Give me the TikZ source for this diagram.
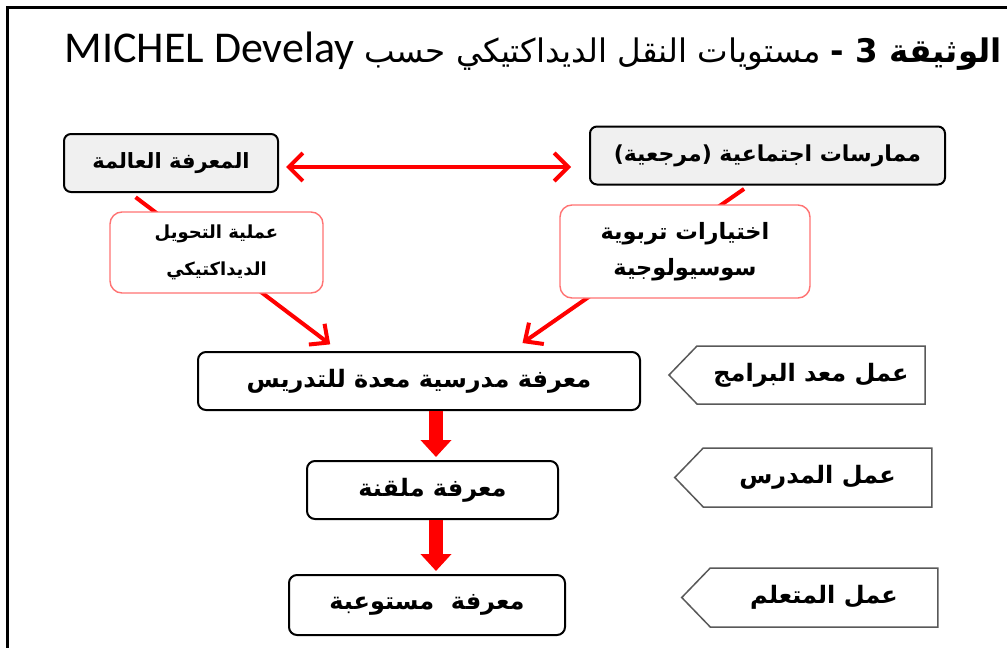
\documentclass[tikz,border=0pt]{standalone}
\usepackage{fontspec}
\setmainfont{Carlito}
\newfontfamily\arabicfont[Script=Arabic]{DejaVu Sans}
\TeXXeTstate=1
\usetikzlibrary{arrows.meta}
\usetikzlibrary{shapes.symbols}
\newcommand{\artxt}[1]{{\arabicfont\beginR #1\endR}}

\begin{document}
\begin{tikzpicture}[x=1pt, y=-1pt,
  topbox/.style={draw=black, line width=2, rounded corners=7, fill=black!6,
    inner sep=0, minimum height=58, font=\bfseries\fontsize{22}{26}\selectfont},
  pinkbox/.style={draw=red!55, line width=1.4, rounded corners=12, fill=white,
    inner sep=0, align=center, font=\bfseries},
  mainbox/.style={draw=black, line width=2, rounded corners=8, fill=white,
    inner sep=0, minimum height=58, font=\bfseries\fontsize{24}{28}\selectfont},
  rolebox/.style={signal, signal to=west, signal pointer angle=92, draw=black!65,
    line width=1.5, fill=white, inner sep=0, minimum width=256, minimum height=58,
    font=\bfseries\fontsize{24}{28}\selectfont},
  redline/.style={draw=red, line width=4, -{Straight Barb[length=14pt,width=26pt]}},
  dblarrow/.style={draw=red, line width=4, {Straight Barb[length=14pt,width=28pt]}-{Straight Barb[length=14pt,width=28pt]}},
  blockarrow/.style={draw=red, line width=14, -{Triangle[length=17pt,width=30pt]}}]
\useasboundingbox (0,0) rectangle (1007,648);
%%% frame and title %%%
\draw[line width=3] (7,660) -- (7,7) -- (1015,7);
\node[anchor=base east, font=\fontsize{32.5}{38}\selectfont, inner sep=0] (title) at (1002,62)
  {\arabicfont\beginR{\bfseries الوثيقة 3 -} مستويات النقل الديداكتيكي حسب \beginL{\rmfamily\fontsize{44}{48}\selectfont MICHEL Develay}\endL\endR};

%%% knowledge levels %%%
\node[topbox, minimum width=214, font=\bfseries\fontsize{21}{26}\selectfont] (savant) at (171,163) {\artxt{المعرفة العالمة}};
\node[topbox, minimum width=355] (pratiques) at (767.5,155.5) {\artxt{ممارسات اجتماعية (مرجعية)}};
\node[mainbox, minimum width=442] (scolaire) at (419,381) {\artxt{معرفة مدرسية معدة للتدريس}};
\node[mainbox, minimum width=251] (enseigne) at (432.5,490) {\artxt{معرفة ملقنة}};
\node[mainbox, minimum width=276, minimum height=60] (assimile) at (427,605) {\artxt{معرفة \ مستوعبة}};

%%% arrows %%%
\draw[dblarrow, shorten <=7, shorten >=18] ([yshift=-4]savant.east) -- ([yshift=-4]savant.east -| pratiques.west);
\draw[redline, shorten <=7, shorten >=11] ([xshift=-41]savant.south) -- ([xshift=-80]scolaire.north);
\draw[redline, shorten <=6, shorten >=14] ([xshift=-18.5]pratiques.south) -- ([xshift=92]scolaire.north);
\draw[blockarrow, shorten >=3] ([xshift=17]scolaire.south) -- ([xshift=17]scolaire.south |- enseigne.north);
\draw[blockarrow, shorten >=3] ([xshift=3.5]enseigne.south) -- ([xshift=3.5]enseigne.south |- assimile.north);

%% over the lines
\node[pinkbox, minimum width=213, minimum height=81, font=\bfseries\fontsize{18}{37}\selectfont] (transpo) at (216.5,252.5)
  {\artxt{عملية التحويل}\\ \artxt{الديداكتيكي}};
\node[pinkbox, minimum width=250, minimum height=93, font=\bfseries\fontsize{22.5}{36}\selectfont] (choix) at (685,251.5)
  {\artxt{اختيارات تربوية}\\ \artxt{سوسيولوجية}};

%%% who does it %%%
\node[rolebox] (programmes) at (811,375) {\artxt{عمل معد البرامج}};
\node[rolebox, minimum width=257, minimum height=59] (enseignant) at (817.5,477.5) {\artxt{عمل المدرس}};
\node[rolebox, minimum height=59] (apprenant) at (824,597.5) {\artxt{عمل المتعلم}};

\end{tikzpicture}
\end{document}
